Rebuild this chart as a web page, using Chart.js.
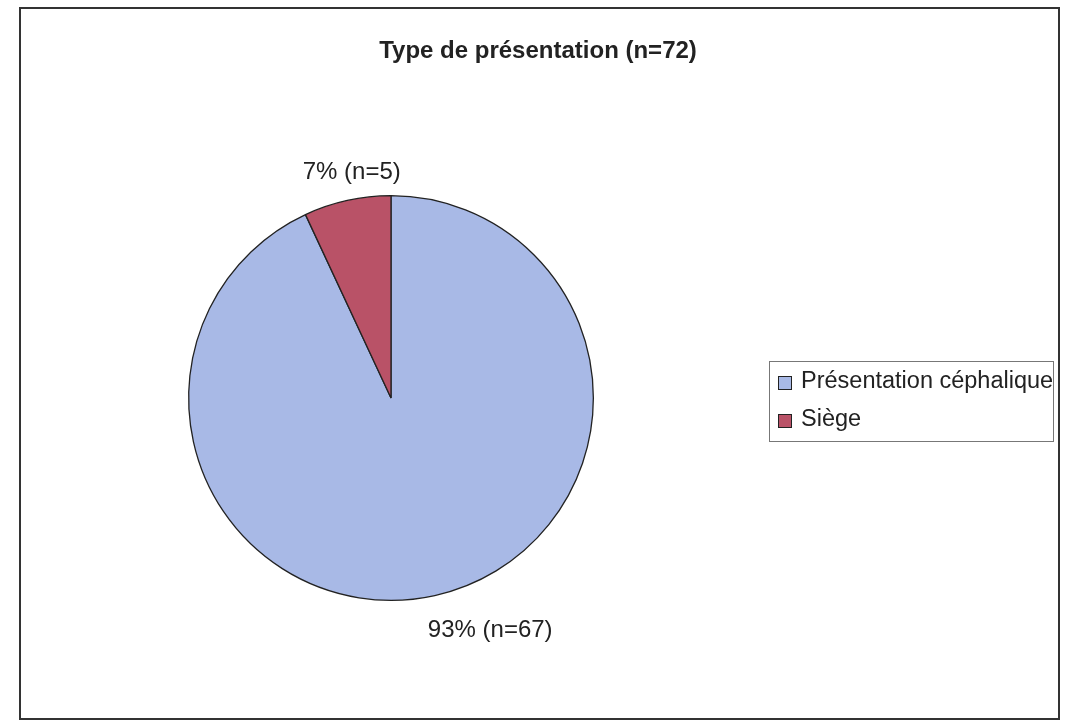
<!DOCTYPE html>
<html>
<head>
<meta charset="utf-8">
<script src="https://cdn.jsdelivr.net/npm/chart.js@4"></script>
<style>
  html, body { margin: 0; padding: 0; background: #fff; }
  #wrap { position: relative; width: 1068px; height: 727px; }
  #frame {
    position: absolute; left: 19px; top: 7px; width: 1037px; height: 709px;
    border: 2px solid #333;
  }
  #title {
    position: absolute; left: 0; width: 1076px; top: 36px; text-align: center;
    font: bold 24px "Liberation Sans", Arial, sans-serif; color: #222; line-height: 28px;
  }
  #legend {
    position: absolute; left: 769px; top: 361px; width: 285px; height: 81px;
    border: 1px solid #777; box-sizing: border-box;
    font: 23.5px "Liberation Sans", Arial, sans-serif; color: #222;
  }
  .item { position: absolute; left: 8px; white-space: nowrap; line-height: 28px; }
  .box {
    display: inline-block; width: 12px; height: 12px; border: 1.5px solid #222;
    margin-right: 9px; vertical-align: -2px;
  }
</style>
</head>
<body>
<div id="wrap">
  <div id="frame"></div>
  <canvas id="pie"></canvas>
  <div id="title"></div>
  <div id="legend"></div>
</div>
<script>
const titleText = 'Type de présentation (n=72)';
const categories = ['Présentation céphalique', 'Siège'];
const counts = [67, 5];
const percents = [93, 7];
const colors = ['#a8b9e6', '#b95267'];

document.getElementById('title').textContent = titleText;

// legend (html, Excel style box on the right)
const legend = document.getElementById('legend');
categories.forEach((name, i) => {
    const row = document.createElement('div');
    row.className = 'item';
    row.style.top = (4 + i * 38) + 'px';
    const sw = document.createElement('span');
    sw.className = 'box';
    sw.style.background = colors[i];
    row.appendChild(sw);
    row.appendChild(document.createTextNode(name));
    legend.appendChild(row);
});

// outside labels, anchored on each slice's mid angle
const labelOffsets = [[50, 10], [10, -4]];
const outsideLabels = {
    id: 'outsideLabels',
    afterDatasetsDraw(chart) {
        const ctx = chart.ctx;
        const meta = chart.getDatasetMeta(0);
        ctx.save();
        ctx.font = '24px "Liberation Sans", Arial, sans-serif';
        ctx.fillStyle = '#222';
        ctx.textAlign = 'center';
        ctx.textBaseline = 'middle';
        meta.data.forEach((arc, i) => {
            const mid = (arc.startAngle + arc.endAngle) / 2;
            const d = arc.outerRadius + 25;
            const x = arc.x + Math.cos(mid) * d + labelOffsets[i][0];
            const y = arc.y + Math.sin(mid) * d + labelOffsets[i][1];
            ctx.fillText(percents[i] + '% (n=' + counts[i] + ')', x, y);
        });
        ctx.restore();
    }
};

const ctx = document.getElementById('pie').getContext('2d');
const chart = new Chart(ctx, {
    type: 'pie',
    data: {
        labels: categories,
        datasets: [{
            data: counts,
            backgroundColor: colors,
            borderColor: '#222',
            borderWidth: 1.3
        }]
    },
    options: {
        responsive: true,
        maintainAspectRatio: false,
        animation: false,
        layout: {
            padding: { left: 188, right: 474, top: 195, bottom: 126 }
        },
        plugins: {
            legend: { display: false },
            title: { display: false },
            tooltip: { enabled: false }
        }
    },
    plugins: [outsideLabels]
});
</script>
<style>
  #pie { position: absolute; left: 0; top: 0; }
  #wrap canvas { width: 1068px !important; height: 727px !important; }
</style>
</body>
</html>
